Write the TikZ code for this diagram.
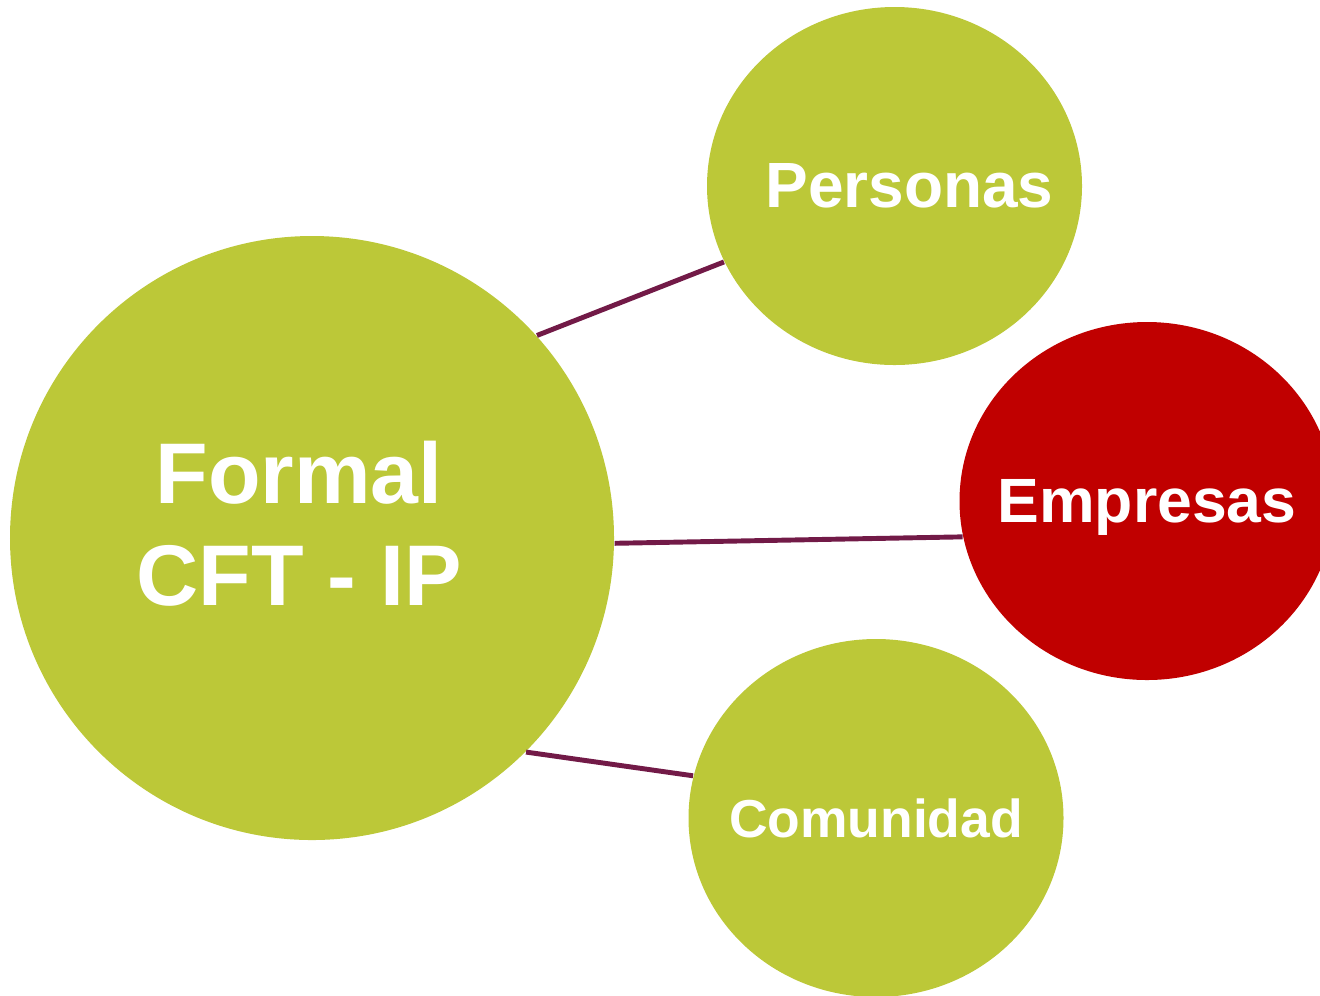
\documentclass[tikz,border=0pt]{standalone}
\usepackage{fontspec}
\setmainfont{Liberation Sans}
\usepackage{tikz}
\usetikzlibrary{shapes, positioning, shapes.geometric}
\usepackage{xcolor}
\definecolor{olivegreen}{RGB}{188,200,56}
\definecolor{darkred}{RGB}{192,0,0}
\definecolor{linkpurple}{RGB}{114,26,71}

\begin{document}
\begin{tikzpicture}[
    bubble/.style={ellipse, fill=olivegreen, inner sep=0pt, minimum width=3.75cm, minimum height=3.58cm},
    bubbletext/.style={text=white, font=\bfseries\fontsize{#1}{#1}\selectfont, align=center, inner sep=0pt},
    link/.style={draw=linkpurple, line width=1.4pt}
]
        \useasboundingbox (0,0) rectangle (13.2,-9.95);
        % clip to page
        \clip (0,0) rectangle (13.2,-9.95);

        % Main circle
        \node[circle, fill=olivegreen, minimum size=6.04cm, inner sep=0pt] (formal) at (3.12,-5.38) {};
        \node[bubbletext=24.5, xshift=-0.13cm, yshift=0.14cm] (formaltxt) at (formal.center) {Formal\\[4.5pt]CFT - IP};

        % Outer bubbles
        \node[bubble] (personas) at (8.945,-1.86) {};
        \node[bubbletext=18.2, xshift=0.15cm] (personastxt) at (personas.center) {Personas};
        \node[bubble, fill=darkred] (empresas) at (11.47,-5.01) {};
        \node[bubbletext=17.8, yshift=-0.06cm] (empresastxt) at (empresas.center) {Empresas};
        \node[bubble] (comunidad) at (8.76,-8.18) {};
        \node[bubbletext=15.2] (comunidadtxt) at (comunidad.center) {Comunidad};

        % Links
        \draw[link] (formal.-1) -- (empresas.191.2);
        \draw[link] (formal.42) -- (personas.204);
        \draw[link] (formal.-45.7) -- (comunidad.167.7);

    \end{tikzpicture}
\end{document}
